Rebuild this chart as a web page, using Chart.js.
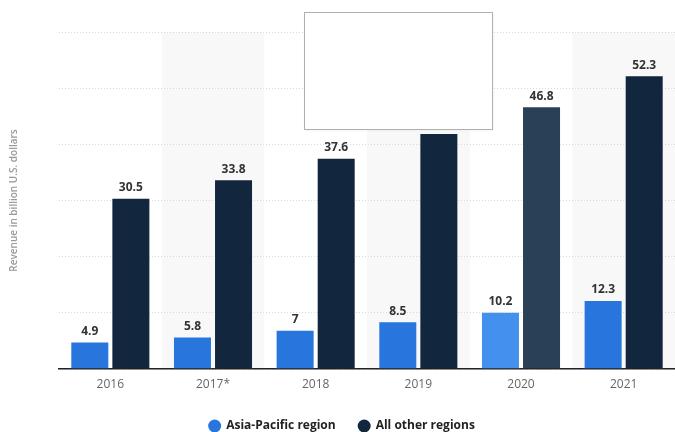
<!DOCTYPE html>
<html>
<head>
<meta charset="utf-8">
<script src="https://cdn.jsdelivr.net/npm/chart.js@4/dist/chart.umd.min.js"></script>
<style>
  html, body { margin: 0; padding: 0; background: #fff; }
  #wrap { width: 675px; height: 432px; position: relative; }
</style>
</head>
<body>
<div id="wrap"><canvas id="revenue-chart"></canvas></div>
<script>
const categories = ['2016', '2017*', '2018', '2019', '2020', '2021'];
const asiaPacific = [4.9, 5.8, 7, 8.5, 10.2, 12.3];
const otherRegions = [30.5, 33.8, 37.6, 42, 46.8, 52.3];
const yTicks = [0, 10, 20, 30, 40, 50, 60];

const seriesColors = ['#2876dd', '#12263e'];
const hoverColors = ['#4390ee', '#2a4057'];
const hoverIndex = 4;
const asiaColors = categories.map((c, i) => i === hoverIndex ? hoverColors[0] : seriesColors[0]);
const otherColors = categories.map((c, i) => i === hoverIndex ? hoverColors[1] : seriesColors[1]);

// light bands behind every second year
const bandPlugin = {
    id: 'bands',
    beforeDraw(chart) {
        const { ctx, chartArea, scales } = chart;
        const x = scales.x;
        const step = (chartArea.right - chartArea.left) / categories.length;
        ctx.save();
        ctx.fillStyle = '#f8f8f8';
        categories.forEach((c, i) => {
            if (i % 2 === 1) {
                const cx = x.getPixelForValue(i);
                ctx.fillRect(cx - step / 2, chartArea.top, step, chartArea.bottom - chartArea.top);
            }
        });
        ctx.restore();
    }
};

// value labels above each bar, the legend row, then the empty hover box on top
const labelPlugin = {
    id: 'valueLabels',
    afterDatasetsDraw(chart) {
        const { ctx } = chart;
        ctx.save();
        ctx.font = 'bold 12px "Open Sans", sans-serif';
        ctx.fillStyle = '#333';
        ctx.textAlign = 'center';
        ctx.textBaseline = 'bottom';
        chart.data.datasets.forEach((ds, di) => {
            chart.getDatasetMeta(di).data.forEach((bar, i) => {
                ctx.fillText(String(ds.data[i]), bar.x, bar.y - 4);
            });
        });
        ctx.restore();
    },
    afterDraw(chart) {
        const { ctx } = chart;
        ctx.save();
        // legend
        ctx.font = 'bold 12px "Open Sans", sans-serif';
        ctx.textBaseline = 'middle';
        ctx.textAlign = 'left';
        const legendY = 426;
        const gap = 22;
        const widths = chart.data.datasets.map(ds => 13 + 5 + ctx.measureText(ds.label).width);
        let lx = chart.width / 2 + 4 - (widths[0] + widths[1] + gap) / 2;
        chart.data.datasets.forEach((ds, i) => {
            ctx.fillStyle = seriesColors[i];
            ctx.beginPath();
            ctx.arc(lx + 6.5, legendY, 6.5, 0, Math.PI * 2);
            ctx.fill();
            ctx.fillStyle = '#222';
            ctx.fillText(ds.label, lx + 18, legendY);
            lx += widths[i] + gap;
        });

        // hover box
        ctx.shadowColor = 'rgba(0,0,0,0.12)';
        ctx.shadowBlur = 3;
        ctx.fillStyle = '#fff';
        ctx.fillRect(304.5, 12.5, 188, 117);
        ctx.shadowColor = 'transparent';
        ctx.strokeStyle = '#b0b0b0';
        ctx.lineWidth = 1;
        ctx.strokeRect(304.5, 12.5, 188, 117);
        ctx.restore();
    }
};

Chart.defaults.font.family = '"Open Sans", sans-serif';

new Chart(document.getElementById('revenue-chart'), {
    type: 'bar',
    data: {
        labels: categories,
        datasets: [{
            label: 'Asia-Pacific region',
            data: asiaPacific,
            backgroundColor: asiaColors,
            borderColor: 'rgba(255,255,255,0.35)',
            borderWidth: 1,
            categoryPercentage: 0.8,
            barPercentage: 0.95
        }, {
            label: 'All other regions',
            data: otherRegions,
            backgroundColor: otherColors,
            borderColor: 'rgba(255,255,255,0.25)',
            borderWidth: 1,
            categoryPercentage: 0.8,
            barPercentage: 0.95
        }]
    },
    options: {
        responsive: true,
        maintainAspectRatio: false,
        animation: false,
        layout: { padding: { top: 32, right: 0, bottom: 0, left: 0 } },
        plugins: {
            tooltip: { enabled: false },
            legend: { display: false }
        },
        scales: {
            x: {
                grid: { display: false, drawTicks: false },
                border: { display: true, color: '#222', width: 1.5 },
                ticks: { color: '#666', font: { size: 12 }, padding: 8 },
                afterFit(scale) { scale.height = 63; }
            },
            y: {
                min: 0,
                max: 60,
                afterBuildTicks(scale) { scale.ticks = yTicks.map(v => ({ value: v })); },
                ticks: { display: false },
                grid: { color: '#d8d8d8', drawTicks: false },
                border: { display: false, dash: [1, 2] },
                title: {
                    display: true,
                    text: 'Revenue in billion U.S. dollars',
                    color: '#999',
                    font: { size: 10, weight: '600' },
                    padding: { top: 8, bottom: 0 }
                },
                afterFit(scale) { scale.width = 59; }
            }
        }
    },
    plugins: [bandPlugin, labelPlugin]
});
</script>
</body>
</html>
